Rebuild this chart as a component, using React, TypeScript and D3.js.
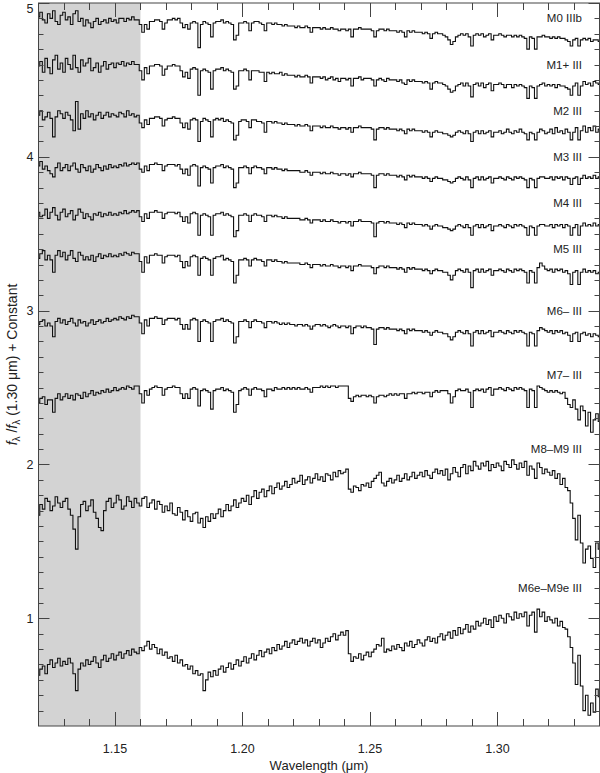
import React, { useEffect, useRef } from 'react'
import * as d3 from 'd3'

// wavelength grid of the spectra: 1.120 ... 1.340 um, one value per 0.001 um
const lambdaStart = 1.12
const lambdaStep = 0.001

// normalised flux + constant, in hundredths
const m0IIIb = [
  491, 494, 489, 487, 493, 490, 495, 488, 486, 492,
  494, 489, 491, 486, 493, 495, 488, 490, 485, 489,
  487, 484, 488, 490, 486, 488, 489, 487, 490, 488,
  489, 487, 490, 490, 488, 490, 489, 491, 489, 489,
  486, 481, 486, 483, 488, 488, 489, 489, 488, 483,
  487, 489, 489, 490, 489, 490, 487, 484, 486, 483,
  487, 488, 487, 471, 486, 488, 487, 486, 478, 487,
  488, 488, 489, 487, 488, 487, 486, 476, 479, 487,
  487, 488, 487, 482, 487, 488, 488, 487, 486, 482,
  487, 487, 486, 487, 486, 486, 485, 486, 485, 485,
  485, 484, 485, 484, 484, 485, 484, 481, 484, 484,
  484, 483, 484, 483, 483, 484, 483, 483, 482, 483,
  483, 482, 483, 478, 483, 483, 484, 483, 483, 483,
  483, 482, 478, 482, 483, 483, 482, 483, 482, 482,
  482, 481, 482, 481, 478, 482, 481, 482, 481, 481,
  481, 480, 481, 480, 477, 480, 481, 480, 480, 479,
  478, 476, 473, 475, 478, 479, 480, 479, 480, 478,
  472, 479, 480, 479, 480, 478, 479, 480, 476, 479,
  479, 480, 479, 478, 479, 479, 478, 479, 478, 479,
  478, 477, 470, 478, 477, 470, 478, 478, 479, 478,
  478, 477, 478, 477, 478, 477, 477, 476, 475, 472,
  476, 477, 472, 476, 477, 476, 477, 475, 476, 476, 475
]
const m1III = [
  459, 462, 455, 464, 458, 454, 463, 466, 457, 461,
  455, 464, 460, 457, 466, 458, 455, 463, 459, 461,
  464, 456, 458, 461, 455, 459, 462, 457, 460, 461,
  458, 461, 460, 462, 459, 461, 460, 462, 460, 460,
  456, 450, 458, 454, 459, 459, 460, 460, 459, 453,
  457, 459, 459, 460, 459, 459, 456, 452, 455, 451,
  457, 458, 457, 440, 456, 457, 456, 455, 444, 456,
  457, 457, 458, 456, 457, 456, 455, 444, 446, 456,
  456, 457, 456, 450, 456, 456, 456, 455, 455, 449,
  455, 454, 455, 454, 454, 455, 453, 454, 453, 453,
  453, 452, 453, 452, 452, 453, 452, 448, 452, 452,
  452, 451, 452, 450, 451, 452, 450, 451, 449, 451,
  451, 450, 451, 446, 451, 451, 452, 450, 451, 451,
  451, 450, 446, 450, 451, 450, 449, 451, 450, 450,
  450, 449, 450, 448, 447, 450, 449, 450, 449, 449,
  449, 448, 449, 448, 444, 448, 449, 448, 448, 447,
  446, 444, 442, 443, 446, 447, 448, 446, 448, 446,
  439, 447, 448, 446, 448, 445, 447, 448, 443, 447,
  447, 448, 447, 445, 447, 447, 445, 447, 446, 447,
  446, 445, 438, 446, 445, 438, 446, 447, 448, 446,
  447, 446, 447, 445, 447, 446, 446, 445, 444, 440,
  446, 448, 440, 446, 449, 447, 448, 446, 449, 448, 447
]
const m2III = [
  427, 430, 424, 426, 429, 425, 413, 426, 430, 428,
  425, 429, 427, 424, 417, 436, 418, 428, 425, 430,
  426, 428, 424, 427, 429, 425, 427, 429, 426, 428,
  427, 426, 429, 428, 426, 430, 427, 428, 426, 427,
  422, 419, 424, 421, 425, 425, 426, 426, 425, 420,
  424, 425, 425, 426, 425, 425, 422, 419, 422, 418,
  424, 425, 424, 410, 423, 425, 424, 423, 413, 424,
  425, 424, 425, 423, 424, 423, 422, 411, 414, 423,
  424, 424, 423, 419, 424, 424, 423, 423, 422, 416,
  423, 423, 422, 423, 422, 422, 421, 422, 421, 421,
  421, 420, 421, 420, 420, 421, 420, 417, 420, 420,
  420, 419, 420, 419, 419, 420, 419, 419, 418, 419,
  419, 418, 419, 416, 419, 419, 420, 419, 419, 419,
  419, 418, 411, 418, 419, 419, 418, 419, 418, 418,
  418, 417, 418, 417, 415, 418, 417, 418, 417, 417,
  417, 416, 417, 416, 413, 416, 417, 416, 416, 415,
  415, 414, 413, 414, 416, 417, 416, 415, 417, 415,
  410, 416, 417, 415, 417, 415, 416, 417, 413, 416,
  416, 417, 415, 416, 418, 416, 415, 417, 416, 418,
  416, 415, 411, 416, 415, 411, 416, 418, 417, 415,
  416, 418, 415, 419, 416, 417, 415, 418, 416, 411,
  416, 419, 411, 417, 420, 416, 419, 417, 420, 416, 418
]
const m3III = [
  394, 397, 392, 394, 391, 389, 387, 393, 396, 391,
  393, 395, 391, 394, 396, 392, 390, 395, 393, 391,
  394, 390, 392, 395, 393, 391, 394, 392, 395, 393,
  394, 393, 395, 394, 396, 394, 395, 396, 395, 396,
  392, 390, 394, 391, 395, 395, 396, 395, 395, 391,
  394, 395, 395, 395, 394, 395, 392, 389, 392, 388,
  394, 395, 394, 381, 393, 394, 393, 392, 383, 393,
  394, 394, 395, 393, 394, 393, 392, 380, 383, 393,
  393, 394, 393, 389, 393, 394, 393, 393, 392, 389,
  393, 393, 392, 393, 392, 392, 391, 392, 391, 391,
  391, 391, 391, 390, 390, 391, 390, 388, 390, 390,
  390, 389, 390, 389, 389, 390, 389, 389, 388, 389,
  389, 388, 389, 387, 389, 389, 390, 389, 389, 389,
  389, 388, 380, 388, 389, 389, 388, 389, 388, 388,
  388, 387, 388, 387, 385, 388, 387, 388, 387, 387,
  387, 386, 387, 386, 384, 386, 387, 386, 386, 385,
  385, 384, 383, 384, 386, 387, 386, 385, 387, 385,
  380, 386, 387, 385, 387, 385, 386, 387, 383, 386,
  386, 387, 386, 385, 387, 386, 385, 387, 386, 387,
  386, 385, 380, 386, 385, 380, 386, 387, 387, 386,
  386, 387, 385, 387, 386, 387, 385, 387, 386, 382,
  386, 387, 382, 386, 388, 386, 387, 386, 388, 386, 387
]
const m4III = [
  364, 361, 362, 366, 360, 364, 367, 362, 359, 364,
  366, 361, 363, 365, 359, 362, 366, 364, 360, 363,
  361, 359, 363, 362, 364, 361, 363, 362, 364, 362,
  363, 362, 364, 363, 365, 363, 364, 365, 364, 365,
  361, 358, 363, 360, 364, 364, 365, 364, 364, 360,
  363, 364, 364, 364, 363, 364, 361, 358, 361, 357,
  363, 364, 363, 349, 362, 363, 362, 361, 349, 362,
  363, 363, 364, 362, 363, 362, 361, 348, 352, 362,
  362, 363, 362, 358, 362, 363, 362, 362, 361, 358,
  362, 362, 361, 362, 361, 361, 360, 361, 360, 360,
  360, 360, 360, 359, 359, 360, 359, 357, 359, 359,
  359, 358, 359, 358, 358, 359, 358, 358, 357, 358,
  358, 357, 358, 355, 358, 358, 359, 358, 358, 358,
  358, 357, 348, 357, 358, 358, 357, 358, 357, 357,
  357, 356, 357, 356, 354, 357, 356, 357, 356, 356,
  356, 355, 356, 355, 353, 355, 356, 355, 355, 354,
  354, 353, 352, 353, 355, 356, 355, 354, 356, 354,
  349, 355, 356, 354, 356, 354, 355, 356, 352, 355,
  355, 356, 355, 354, 356, 355, 354, 356, 355, 356,
  355, 354, 349, 355, 354, 349, 355, 356, 356, 355,
  355, 356, 354, 356, 355, 356, 354, 356, 355, 349,
  354, 356, 349, 355, 357, 355, 356, 355, 357, 355, 356
]
const m5III = [
  334, 337, 339, 333, 336, 333, 325, 336, 339, 335,
  338, 333, 336, 339, 334, 332, 338, 336, 333, 335,
  333, 336, 332, 335, 337, 334, 336, 335, 337, 335,
  336, 335, 337, 336, 338, 337, 336, 338, 337, 337,
  332, 325, 335, 331, 336, 336, 337, 336, 336, 331,
  335, 336, 336, 336, 335, 336, 332, 328, 332, 329,
  335, 336, 335, 323, 334, 335, 334, 333, 323, 334,
  335, 335, 336, 333, 334, 333, 332, 318, 323, 333,
  333, 334, 333, 329, 333, 334, 333, 333, 332, 329,
  333, 333, 332, 333, 332, 332, 331, 332, 331, 331,
  331, 331, 331, 330, 330, 331, 330, 328, 330, 330,
  330, 329, 330, 329, 329, 330, 329, 329, 328, 329,
  329, 328, 329, 326, 329, 329, 330, 329, 329, 329,
  329, 328, 324, 328, 329, 329, 328, 329, 328, 328,
  328, 327, 328, 327, 325, 328, 327, 328, 327, 327,
  327, 326, 327, 326, 324, 326, 327, 326, 326, 325,
  325, 323, 320, 323, 326, 327, 326, 325, 327, 325,
  315, 326, 327, 325, 327, 325, 326, 327, 323, 326,
  326, 327, 326, 325, 327, 326, 325, 327, 326, 327,
  326, 325, 318, 326, 325, 318, 328, 331, 329, 327,
  326, 327, 325, 327, 326, 327, 325, 326, 324, 317,
  325, 326, 317, 325, 327, 325, 326, 325, 326, 324, 325
]
const m6III = [
  291, 293, 294, 290, 292, 290, 283, 293, 295, 292,
  294, 291, 293, 295, 292, 290, 294, 292, 293, 290,
  292, 294, 291, 293, 294, 292, 293, 295, 293, 294,
  295, 294, 296, 295, 294, 296, 295, 297, 296, 296,
  292, 285, 294, 290, 295, 295, 296, 295, 295, 291,
  294, 295, 295, 295, 294, 295, 291, 288, 291, 288,
  294, 295, 294, 280, 293, 294, 293, 292, 280, 293,
  294, 294, 295, 293, 294, 293, 292, 279, 283, 293,
  293, 294, 293, 289, 293, 294, 293, 293, 292, 289,
  293, 293, 292, 293, 292, 291, 292, 291, 292, 291,
  291, 290, 291, 291, 290, 291, 290, 288, 290, 291,
  291, 290, 291, 290, 289, 290, 291, 290, 289, 290,
  290, 289, 290, 285, 289, 290, 290, 289, 290, 289,
  289, 288, 278, 288, 289, 289, 288, 289, 288, 288,
  288, 287, 288, 287, 285, 288, 287, 288, 287, 287,
  287, 286, 287, 286, 284, 286, 287, 286, 286, 285,
  285, 283, 281, 283, 286, 287, 286, 285, 287, 285,
  277, 286, 287, 285, 287, 285, 286, 287, 283, 286,
  286, 287, 286, 285, 287, 286, 285, 287, 286, 287,
  286, 285, 277, 286, 285, 277, 287, 289, 288, 287,
  286, 287, 285, 287, 286, 287, 285, 286, 284, 280,
  285, 286, 280, 285, 286, 284, 285, 283, 285, 284, 283
]
const m7III = [
  240, 243, 244, 239, 242, 242, 234, 243, 246, 242,
  244, 246, 243, 245, 242, 246, 245, 243, 247, 244,
  246, 248, 245, 247, 246, 248, 247, 249, 247, 248,
  250, 248, 249, 250, 249, 251, 250, 249, 251, 251,
  246, 240, 248, 245, 249, 250, 251, 250, 250, 245,
  249, 250, 250, 251, 250, 250, 246, 243, 246, 243,
  249, 250, 249, 238, 248, 249, 248, 247, 236, 248,
  249, 249, 250, 248, 249, 248, 247, 234, 239, 248,
  249, 250, 249, 245, 249, 250, 249, 249, 248, 244,
  249, 249, 248, 250, 249, 249, 250, 249, 250, 249,
  250, 249, 250, 249, 249, 250, 249, 247, 250, 250,
  250, 251, 250, 251, 250, 251, 251, 250, 251, 251,
  251, 251, 243, 241, 244, 245, 244, 245, 245, 244,
  245, 244, 240, 244, 245, 245, 244, 245, 246, 245,
  246, 245, 246, 246, 243, 246, 246, 247, 246, 247,
  247, 246, 247, 247, 244, 247, 248, 247, 248, 248,
  248, 246, 240, 244, 248, 249, 248, 248, 249, 247,
  237, 248, 249, 248, 249, 247, 249, 250, 245, 249,
  249, 250, 249, 248, 250, 249, 248, 250, 249, 250,
  249, 248, 237, 249, 248, 237, 251, 250, 249, 248,
  247, 248, 247, 248, 247, 246, 247, 243, 239, 237,
  242, 236, 229, 238, 235, 225, 234, 221, 229, 233, 228
]
const m8m9III = [
  167, 174, 171, 178, 176, 170, 173, 179, 175, 172,
  176, 178, 171, 167, 158, 145, 166, 174, 176, 170,
  173, 177, 169, 165, 159, 157, 170, 176, 178, 172,
  175, 180, 177, 171, 173, 179, 176, 172, 178, 175,
  173, 178, 179, 172, 175, 177, 171, 176, 174, 169,
  173, 170, 175, 168, 167, 172, 169, 164, 170, 166,
  163, 168, 169, 162, 165, 159, 166, 163, 168, 165,
  168, 171, 166, 170, 174, 170, 173, 177, 172, 175,
  178, 176, 180, 174, 179, 183, 178, 182, 184, 179,
  183, 186, 181, 185, 188, 184, 186, 189, 185, 187,
  191, 188, 189, 193, 187, 190, 192, 188, 191, 194,
  190, 192, 189, 194, 193, 190, 195, 192, 196, 194,
  195, 197, 184, 182, 186, 185, 183, 187, 186, 188,
  185, 189, 191, 193, 195, 188, 186, 189, 191, 188,
  190, 193, 189, 191, 194, 190, 192, 195, 191, 193,
  195, 192, 196, 193, 191, 195, 197, 194, 196, 193,
  197, 190, 194, 198, 195, 192, 198, 200, 194, 199,
  196, 202, 199, 197, 201, 199, 202, 196, 200, 198,
  201, 199, 196, 202, 200, 198, 203, 200, 197, 201,
  198, 202, 193, 199, 197, 191, 201, 198, 194, 197,
  195, 193, 196, 191, 194, 187, 191, 185, 183, 175,
  165, 151, 167, 149, 136, 145, 147, 139, 133, 149, 145
]
const m6eM9eIII = [
  63, 67, 69, 64, 70, 73, 68, 71, 74, 69,
  72, 70, 74, 71, 64, 53, 67, 71, 69, 73,
  70, 72, 75, 71, 68, 73, 76, 72, 74, 77,
  73, 76, 78, 74, 77, 79, 76, 80, 78, 77,
  81, 79, 82, 85, 80, 83, 81, 77, 80, 76,
  78, 74, 75, 72, 76, 71, 73, 69, 70, 67,
  69, 64, 66, 63, 64, 53, 60, 65, 62, 66,
  63, 67, 69, 65, 68, 71, 67, 70, 73, 69,
  72, 75, 71, 74, 77, 73, 76, 79, 75, 78,
  80, 77, 81, 79, 83, 80, 82, 85, 81, 84,
  86, 83, 85, 87, 84, 86, 82, 85, 87, 84,
  86, 81, 84, 87, 85, 88, 90, 86, 89, 91,
  89, 92, 77, 72, 75, 74, 77, 73, 76, 78,
  75, 78, 80, 83, 82, 87, 78, 80, 79, 82,
  80, 83, 81, 79, 84, 82, 85, 81, 83, 86,
  84, 82, 86, 88, 85, 87, 84, 88, 90, 86,
  89, 91, 87, 92, 89, 94, 90, 93, 96, 91,
  95, 93, 98, 95, 97, 100, 96, 99, 94, 101,
  98, 102, 100, 97, 103, 101, 99, 104, 100, 103,
  101, 104, 95, 102, 104, 91, 106, 101, 104, 98,
  101, 99, 97, 100, 95, 98, 94, 93, 88, 81,
  71, 57, 76, 56, 40, 50, 37, 45, 39, 54, 49
]

const spectra = [m0IIIb, m1III, m2III, m3III, m4III, m5III, m6III, m7III, m8m9III, m6eM9eIII]
const spectralTypes = ['M0 IIIb', 'M1+ III', 'M2 III', 'M3 III', 'M4 III', 'M5 III', 'M6\u2013 III', 'M7\u2013 III', 'M8\u2013M9 III', 'M6e\u2013M9e III']
// flux level where each spectral type label sits
const labelLevels = [4.9, 4.6, 4.3, 4.0, 3.7, 3.4, 3.0, 2.58, 2.1, 1.2]

// shaded (telluric) wavelength band
const shadedBand = [1.12, 1.16]
const xMajorTicks = [1.15, 1.2, 1.25, 1.3]
const yMajorTicks = [1, 2, 3, 4, 5]

const W = 600
const H = 773
const FONT = '"Liberation Sans", Arial, Helvetica, sans-serif'

export default function App () {
  const ref = useRef<SVGSVGElement>(null)

  useEffect(() => {
    const svg = d3.select(ref.current)
    svg.selectAll('*').remove()

    const x = d3.scaleLinear().domain([1.12, 1.34]).range([38.5, 599.5])
    const y = d3.scaleLinear().domain([0.3, 5.0]).range([726, 3])
    const [x0, x1] = x.range()
    const [y0, y1] = y.range()

    svg.append('defs').append('clipPath').attr('id', 'plot-clip')
      .append('rect')
      .attr('x', x0).attr('y', y1).attr('width', x1 - x0).attr('height', y0 - y1)

    // grey band
    svg.append('rect')
      .attr('x', x(shadedBand[0])).attr('y', y1)
      .attr('width', x(shadedBand[1]) - x(shadedBand[0]))
      .attr('height', y0 - y1)
      .attr('fill', '#d3d3d3')

    // spectra
    const line = d3.line<number>()
      .x((_, i) => x(lambdaStart + i * lambdaStep))
      .y(d => y(d / 100))
      .curve(d3.curveStep)

    svg.append('g').attr('clip-path', 'url(#plot-clip)')
      .selectAll('path')
      .data(spectra)
      .enter().append('path')
      .attr('d', d => line(d))
      .attr('fill', 'none')
      .attr('stroke', '#111')
      .attr('stroke-width', 1.1)

    // labels
    svg.append('g')
      .selectAll('text')
      .data(spectralTypes)
      .enter().append('text')
      .attr('x', 582)
      .attr('y', (_, i) => y(labelLevels[i]))
      .attr('dy', '0.35em')
      .attr('text-anchor', 'end')
      .style('font-family', FONT)
      .style('font-size', '11.5px')
      .style('fill', '#222')
      .text(d => d)

    // frame
    svg.append('rect')
      .attr('x', x0).attr('y', y1)
      .attr('width', x1 - x0).attr('height', y0 - y1)
      .attr('fill', 'none').attr('stroke', '#444').attr('stroke-width', 1)

    const ticks = svg.append('g').attr('stroke', '#444').attr('stroke-width', 1)

    // x ticks, inward on bottom and top
    const xMinor = d3.range(113, 134).map(d => d / 100).filter(v => !xMajorTicks.some(m => Math.abs(m - v) < 1e-6))
    const xTicks = [...xMajorTicks.map(v => ({ v, len: 14 })), ...xMinor.map(v => ({ v, len: 7 }))]
    xTicks.forEach(t => {
      const px = Math.round(x(t.v)) + 0.5
      ticks.append('line').attr('x1', px).attr('x2', px).attr('y1', y0).attr('y2', y0 - t.len)
      ticks.append('line').attr('x1', px).attr('x2', px).attr('y1', y1).attr('y2', y1 + t.len)
    })

    // y ticks, inward on left and right
    const yMinor = d3.range(4, 50).map(d => d / 10).filter(v => !yMajorTicks.some(m => Math.abs(m - v) < 1e-6))
    const yTicks = [...yMajorTicks.map(v => ({ v, len: 11 })), ...yMinor.map(v => ({ v, len: 5 }))]
    yTicks.forEach(t => {
      const py = Math.round(y(t.v)) + 0.5
      ticks.append('line').attr('x1', x0).attr('x2', x0 + t.len).attr('y1', py).attr('y2', py)
      ticks.append('line').attr('x1', x1).attr('x2', x1 - t.len).attr('y1', py).attr('y2', py)
    })

    // tick labels
    svg.append('g')
      .selectAll('text')
      .data(xMajorTicks)
      .enter().append('text')
      .attr('x', d => x(d))
      .attr('y', 753)
      .attr('text-anchor', 'middle')
      .style('font-family', FONT)
      .style('font-size', '12.5px')
      .style('fill', '#222')
      .text(d => d3.format('.2f')(d))

    svg.append('g')
      .selectAll('text')
      .data(yMajorTicks)
      .enter().append('text')
      .attr('x', 30)
      .attr('y', d => Math.max(y(d), 8.5))
      .attr('dy', '0.35em')
      .attr('text-anchor', 'middle')
      .style('font-family', FONT)
      .style('font-size', '12.5px')
      .style('fill', '#222')
      .text(d => d)

    // axis titles
    svg.append('text')
      .attr('x', (x0 + x1) / 2)
      .attr('y', 770)
      .attr('text-anchor', 'middle')
      .style('font-family', FONT)
      .style('font-size', '13px')
      .style('fill', '#222')
      .text('Wavelength (\u03bcm)')

    const yTitle = svg.append('text')
      .attr('transform', `translate(17,${(y0 + y1) / 2}) rotate(-90)`)
      .attr('text-anchor', 'middle')
      .style('font-family', FONT)
      .style('font-size', '14px')
      .style('fill', '#222')
    yTitle.append('tspan').style('font-style', 'italic').text('f')
    yTitle.append('tspan').attr('dy', 3).style('font-size', '10px').text('\u03bb')
    yTitle.append('tspan').attr('dy', -3).text(' /')
    yTitle.append('tspan').style('font-style', 'italic').text('f')
    yTitle.append('tspan').attr('dy', 3).style('font-size', '10px').text('\u03bb')
    yTitle.append('tspan').attr('dy', -3).text(' (1.30 \u03bcm) + Constant')
  }, [])

  return (
    <svg
      ref={ref}
      width={W}
      height={H}
      style={{ position: 'absolute', left: 0, top: 0, background: '#fff' }}
    />
  )
}
